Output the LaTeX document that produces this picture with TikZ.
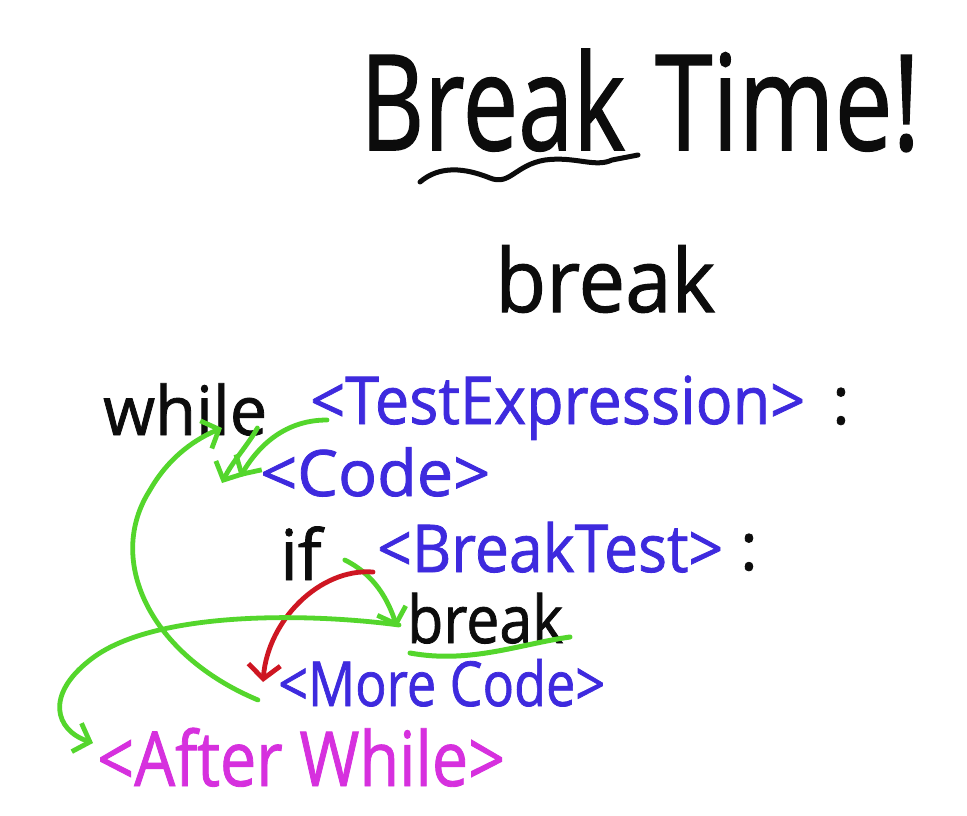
\documentclass[tikz,border=0pt]{standalone}
\usepackage{fontspec}
\setmainfont[FakeBold=1.2]{Open Sans}
\usepackage{graphicx}
\usetikzlibrary{arrows.meta}
\definecolor{inkblue}{RGB}{62,42,222}
\definecolor{inkmag}{RGB}{214,48,222}
\definecolor{inkgreen}{RGB}{84,214,44}
\definecolor{inkred}{RGB}{206,22,34}
\definecolor{inkblack}{RGB}{12,12,12}
\newcommand{\fitw}[2]{\resizebox{#1}{\height}{#2}}
\newcommand{\fs}[1]{\fontsize{#1}{#1}\selectfont}
\begin{document}
\begin{tikzpicture}[x=1pt,y=-1pt,
  txt/.style={inner sep=0pt, anchor=base west, text=inkblack},
  code/.style={txt, text=inkblue},
  garrow/.style={draw=inkgreen, line width=4.8pt, line cap=round, line join=round,
     -{Straight Barb[length=14pt,width=30pt]}},
  rarrow/.style={draw=inkred, line width=4.8pt, line cap=round, line join=round,
     -{Straight Barb[length=14pt,width=32pt]}},
  stroke/.style={line width=5pt, line cap=round, line join=round}]
\useasboundingbox[fill=white] (0,0) rectangle (967,816);

% title
\node[txt] (tbreak) at (360,150) {\fs{133}\fitw{265pt}{Break}};
\node[txt] (ttime) at (655,150) {\fs{133}\fitw{265pt}{Time!}};
\draw[stroke, inkblack] ([shift={(60,32)}]tbreak.base west)
  .. controls (440,165) and (465,168) .. (490,178)
  .. controls (510,186) and (515,165) .. (545,160)
  .. controls (575,156) and (595,168) .. (612,160)
  -- ([shift={(278,5)}]tbreak.base west);

% heading
\node[txt] (head) at (495,312) {\fs{88}\fitw{220pt}{break}};

% code
\node[txt] (while) at (103,435) {\fs{68}\fitw{164pt}{while}};
\node[code] (texp) at (310,424) {\fs{66}\fitw{495pt}{<TestExpression>}};
\node[txt] (col1) at (832,424) {\fs{66}:};
\node[code] (code) at (260,496) {\fs{64}\fitw{230pt}{<Code>}};
\node[txt] (if) at (280,580) {\fs{70}if};
\node[code] (btest) at (377,572) {\fs{66}\fitw{346pt}{<BreakTest>}};
\node[txt] (col2) at (740,570) {\fs{66}:};
\node[txt] (brk) at (407,643) {\fs{66}\fitw{156pt}{break}};
\node[code] (more) at (278,706) {\fs{62}\fitw{327pt}{<More Code>}};
\node[code, text=inkmag] (after) at (97,786) {\fs{76}\fitw{408pt}{<After While>}};

% underline of break
\draw[stroke, inkgreen] ([shift={(3,10)}]brk.base west)
  .. controls (470,664) and (520,644) .. ([shift={(163,-6)}]brk.base west);

% arrows
\draw[garrow] ([shift={(17,-4)}]texp.base west)
  .. controls (290,420) and (262,440) .. ([shift={(-20,-19)}]code.base west);
\draw[garrow] ([shift={(-10,-7)}]while.base east)
  .. controls (248,445) and (232,462) .. ([shift={(-38,-13)}]code.base west);
\draw[garrow] ([shift={(-20,-6)}]more.base west)
  .. controls (150,655) and (105,560) .. (150,490)
  .. controls (170,455) and (198,438) .. ([shift={(119,-7)}]while.base west);
\draw[garrow] ([shift={(23,-20)}]if.base east)
  .. controls (375,575) and (388,600) .. ([shift={(-10,-16)}]brk.base west);
\draw[rarrow] ([shift={(-4,0)}]btest.base west)
  .. controls (320,568) and (268,620) .. ([shift={(-15,-24)}]more.base west);
\draw[garrow] ([shift={(-8,-18)}]brk.base west)
  .. controls (300,612) and (150,612) .. (90,660)
  .. controls (45,695) and (55,730) .. ([shift={(-4,-43)}]after.base west);
\end{tikzpicture}
\end{document}
